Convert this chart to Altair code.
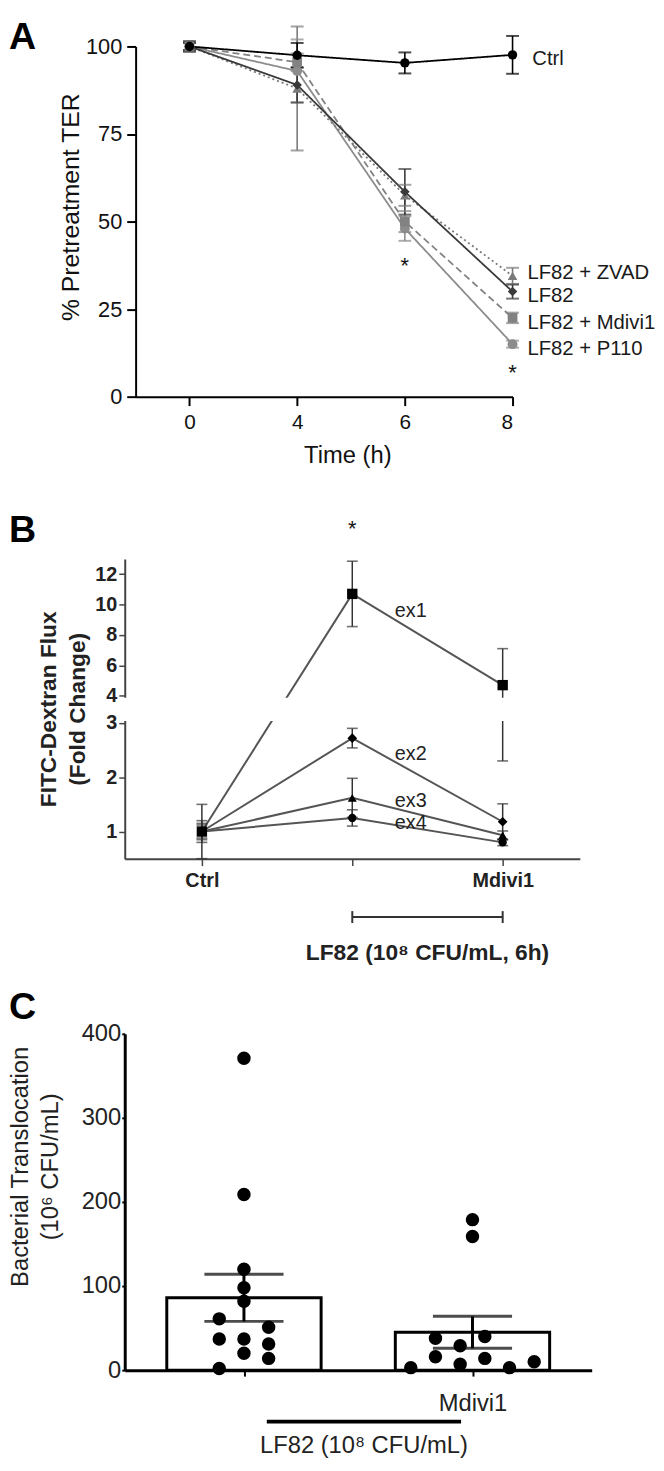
import altair as alt
import pandas as pd

FONT = "Liberation Sans"

# ---------------- Panel A data ----------------
a_times = [0, 4, 6, 8]
a_series = ["LF82 + P110", "LF82 + Mdivi1", "LF82 + ZVAD", "LF82", "Ctrl"]
ctrl_mean = [100, 97.5, 95.3, 97.6]
ctrl_sem = [1.5, 3.5, 3.0, 5.4]
lf82_mean = [100, 89, 58.5, 30]
lf82_sem = [1.0, 5.0, 6.5, 2.0]
zvad_mean = [100, 88, 57.5, 34.5]
zvad_sem = [1.0, 17.7, 3.0, 2.3]
mdivi_mean = [100, 95.5, 50, 22.5]
mdivi_sem = [1.0, 2.5, 3.0, 1.5]
p110_mean = [100, 93, 48, 15]
p110_sem = [1.0, 9.0, 3.5, 1.0]
a_sig_times = [6, 8]

# ---------------- Panel B data ----------------
b_conditions = ["Ctrl", "LF82", "LF82 + Mdivi1"]
b_tick_labels = ["Ctrl", "", "Mdivi1"]
b_experiments = ["ex1", "ex2", "ex3", "ex4"]
ex1_mean = [1.0, 10.7, 4.7]
ex1_sem = [0.5, 2.15, 2.4]
ex2_mean = [1.0, 2.72, 1.18]
ex2_sem = [0.2, 0.18, 0.33]
ex3_mean = [1.0, 1.62, 0.93]
ex3_sem = [0.15, 0.36, 0.08]
ex4_mean = [1.0, 1.25, 0.80]
ex4_sem = [0.12, 0.15, 0.06]
b_sig_conditions = ["LF82"]
b_lf82_label = "LF82 (10⁸ CFU/mL, 6h)"

# ---------------- Panel C data ----------------
c_groups = ["LF82", "LF82 + Mdivi1"]
c_tick_labels = ["", "Mdivi1"]
c_bar_mean = [86, 45]
c_bar_sem = [28, 19]
c_lf82_values = [371, 209, 120, 98, 82, 61, 51, 37, 37, 31, 20, 14, 2]
c_lf82_columns = [0, 0, 0, 0, 0, -1, 1, -1, 0, 1, 0, 1, -1]
c_mdivi_values = [179, 159, 3, 38, 16, 29, 7, 40, 14, 3, 10]
c_mdivi_columns = [0, 0, -2.5, -1.5, -1.5, -0.5, -0.5, 0.5, 0.5, 1.5, 2.5]
c_lf82_span = [0.1, 0.95]
c_lf82_label = "LF82 (10⁸ CFU/mL)"

# =====================================================================
# Panel A
# =====================================================================
A_W, A_H = 392, 354
A_SHIFT = 11
a_values = {
    "Ctrl": (ctrl_mean, ctrl_sem),
    "LF82": (lf82_mean, lf82_sem),
    "LF82 + ZVAD": (zvad_mean, zvad_sem),
    "LF82 + Mdivi1": (mdivi_mean, mdivi_sem),
    "LF82 + P110": (p110_mean, p110_sem),
}
rows = []
for name in a_series:
    m, s = a_values[name]
    for i, t in enumerate(a_times):
        rows.append({"series": name, "ti": i, "time": t, "mean": m[i],
                     "lo": m[i] - s[i], "hi": m[i] + s[i]})
df_a = pd.DataFrame(rows)

a_color = {"Ctrl": "#000000", "LF82": "#3a3a3a", "LF82 + ZVAD": "#7a7a7a",
           "LF82 + Mdivi1": "#828282", "LF82 + P110": "#8c8c8c"}
a_dash = {"Ctrl": [1, 0], "LF82": [1, 0], "LF82 + ZVAD": [2, 3],
          "LF82 + Mdivi1": [7, 4], "LF82 + P110": [1, 0]}
a_width = {"Ctrl": 2.2, "LF82": 1.8, "LF82 + ZVAD": 1.8, "LF82 + Mdivi1": 1.8, "LF82 + P110": 1.8}
a_shape = {"Ctrl": "circle", "LF82": "diamond", "LF82 + ZVAD": "triangle-up",
           "LF82 + Mdivi1": "square", "LF82 + P110": "circle"}
a_size = {"Ctrl": 200, "LF82": 110, "LF82 + ZVAD": 90, "LF82 + Mdivi1": 90, "LF82 + P110": 100}
a_label_nudge = {"Ctrl": (20, 4), "LF82 + ZVAD": (15, -3), "LF82": (15, 5),
                 "LF82 + Mdivi1": (15, 5), "LF82 + P110": (15, 5)}

color_a = alt.Color("series:N", scale=alt.Scale(domain=a_series, range=[a_color[s] for s in a_series]), legend=None)
x_labels_a = "[" + ",".join("'%s'" % t for t in a_times) + "][datum.value]"
axis_x_a = alt.Axis(values=list(range(len(a_times))), labelExpr=x_labels_a, title="Time (h)", grid=False,
                    domainColor="#000", domainWidth=2, tickColor="#000", tickWidth=2, tickSize=9,
                    labelFontSize=21, labelColor="#111", labelPadding=6, labelFont=FONT,
                    titleFontSize=24, titleFontWeight="normal", titleColor="#111", titlePadding=12,
                    titleX=225, titleFont=FONT)
axis_y_a = alt.Axis(values=[0, 25, 50, 75, 100], title="% Pretreatment TER", grid=False, offset=-A_SHIFT,
                    domainColor="#000", domainWidth=2, tickColor="#000", tickWidth=2, tickSize=9,
                    labelFontSize=22, labelColor="#111", labelPadding=5, labelFont=FONT,
                    titleFontSize=25, titleFontWeight="normal", titleColor="#111", titlePadding=2,
                    titleY=162, titleFont=FONT)
scale_x_a = alt.Scale(domain=[-0.5, len(a_times) - 1], range=[A_SHIFT, A_W], nice=False)
scale_y_a = alt.Scale(domain=[0, 100], nice=False)


def xa():
    return alt.X("ti:Q", scale=scale_x_a, axis=axis_x_a)


def ya(field):
    return alt.Y(field + ":Q", scale=scale_y_a, axis=axis_y_a)


base_a = alt.Chart(df_a)
lines_a = base_a.mark_line().encode(
    x=xa(), y=ya("mean"), color=color_a, detail="series:N",
    strokeDash=alt.StrokeDash("series:N", scale=alt.Scale(domain=a_series, range=[a_dash[s] for s in a_series]), legend=None),
    strokeWidth=alt.StrokeWidth("series:N", scale=alt.Scale(domain=a_series, range=[a_width[s] for s in a_series]), legend=None),
)
err_a = base_a.mark_rule(strokeWidth=1.6).encode(x=xa(), y=ya("lo"), y2="hi:Q", color=color_a)
caps_a = base_a.transform_fold(["lo", "hi"], as_=["end", "val"]).mark_tick(
    orient="horizontal", size=13, thickness=2).encode(x=xa(), y=ya("val"), color=color_a)
pts_a = base_a.mark_point(filled=True, opacity=1).encode(
    x=xa(), y=ya("mean"), color=color_a,
    shape=alt.Shape("series:N", scale=alt.Scale(domain=a_series, range=[a_shape[s] for s in a_series]), legend=None),
    size=alt.Size("series:N", scale=alt.Scale(domain=a_series, range=[a_size[s] for s in a_series]), legend=None),
)
label_layers_a = []
last = df_a[df_a["ti"] == len(a_times) - 1]
for name in a_series:
    dx, dy = a_label_nudge[name]
    label_layers_a.append(
        alt.Chart(last[last["series"] == name]).mark_text(
            align="left", baseline="middle", dx=dx, dy=dy, fontSize=20.5, color="#1a1a1a", font=FONT
        ).encode(x=xa(), y=ya("mean"), text="series:N")
    )
sig_a = df_a[(df_a["time"].isin(a_sig_times)) & (df_a["series"] != "Ctrl")].groupby("ti", as_index=False)["lo"].min()
sig_a["mark"] = "*"
stars_a = alt.Chart(sig_a).mark_text(baseline="middle", dy=26, fontSize=22, color="#111", font=FONT).encode(
    x=xa(), y=ya("lo"), text="mark:N")
letter_a = alt.Chart(pd.DataFrame({"t": ["A"]})).mark_text(
    align="left", baseline="top", fontSize=38, fontWeight="bold", color="#000", font=FONT
).encode(x=alt.value(-117), y=alt.value(-27), text="t:N")
anchor = alt.Chart(pd.DataFrame({"t": [0]})).mark_rule(strokeOpacity=0, strokeWidth=1).encode(
    x=alt.value(-117), x2=alt.value(-116), y=alt.value(-31), y2=alt.value(-30))

panel_a = alt.layer(lines_a, err_a, caps_a, pts_a, *label_layers_a, stars_a, letter_a, anchor).properties(
    width=A_W, height=A_H)

# =====================================================================
# Panel B (broken y axis)
# =====================================================================
B_W, B_H = 460, 303
B_BREAK_LOW, B_BREAK_HIGH = 3, 4
B_UP_START = 3.5
B_K = 0.28


def disp(v):
    return v if v <= B_BREAK_LOW else B_UP_START + (v - B_BREAK_HIGH) * B_K


def disp_expr(f):
    return "datum.%s <= %s ? datum.%s : %s + (datum.%s - %s) * %s" % (
        f, B_BREAK_LOW, f, B_UP_START, f, B_BREAK_HIGH, B_K)


b_values = {"ex1": (ex1_mean, ex1_sem), "ex2": (ex2_mean, ex2_sem),
            "ex3": (ex3_mean, ex3_sem), "ex4": (ex4_mean, ex4_sem)}
rows = []
for name in b_experiments:
    m, s = b_values[name]
    for i, c in enumerate(b_conditions):
        rows.append({"ex": name, "ci": i, "cond": c, "mean": m[i], "lo": m[i] - s[i], "hi": m[i] + s[i]})
df_b = pd.DataFrame(rows)

b_shape = {"ex1": "square", "ex2": "diamond", "ex3": "triangle-up", "ex4": "circle"}
b_size = {"ex1": 110, "ex2": 70, "ex3": 60, "ex4": 90}
b_label_dy = {"ex1": 17, "ex2": 16, "ex3": 3, "ex4": 5}

b_ticks = [1, 2, 3] + [round(disp(v), 4) for v in [4, 6, 8, 10, 12]]
b_label_expr = "datum.value <= %s ? format(datum.value, 'd') : format(%s + (datum.value - %s) / %s, '.0f')" % (
    B_BREAK_LOW + 0.01, B_BREAK_HIGH, B_UP_START, B_K)
axis_y_b = alt.Axis(values=b_ticks, labelExpr=b_label_expr, grid=False,
                    title=["FITC-Dextran Flux", "(Fold Change)"],
                    domainColor="#444", domainWidth=2, tickColor="#444", tickWidth=1.5, tickSize=6,
                    labelFontSize=20, labelFontWeight="bold", labelColor="#222", labelPadding=2, labelFont=FONT,
                    titleFontSize=23, titleFontWeight="bold", titleColor="#222", titlePadding=5,
                    titleLineHeight=30, titleFont=FONT)
x_labels_b = "[" + ",".join("'%s'" % t for t in b_tick_labels) + "][datum.value]"
axis_x_b = alt.Axis(values=list(range(len(b_conditions))), labelExpr=x_labels_b, title=None, grid=False,
                    domainColor="#444", domainWidth=2, tickColor="#444", tickWidth=1.5, tickSize=7,
                    labelFontSize=20, labelFontWeight="bold", labelColor="#222", labelPadding=5, labelFont=FONT)
scale_x_b = alt.Scale(domain=[-0.513, 2.513], nice=False)
scale_y_b = alt.Scale(domain=[0.5, disp(13)], nice=False, zero=False)


def xb():
    return alt.X("ci:Q", scale=scale_x_b, axis=axis_x_b)


def yb(field):
    return alt.Y(field + ":Q", scale=scale_y_b, axis=axis_y_b)


base_b = alt.Chart(df_b).transform_calculate(
    d_mean=disp_expr("mean"), d_lo=disp_expr("lo"), d_hi=disp_expr("hi"))
lines_b = base_b.mark_line(color="#555", strokeWidth=2).encode(x=xb(), y=yb("d_mean"), detail="ex:N")
err_b = base_b.mark_rule(color="#333", strokeWidth=1.5).encode(x=xb(), y=yb("d_lo"), y2="d_hi:Q")
caps_b = base_b.transform_fold(["d_lo", "d_hi"], as_=["end", "val"]).mark_tick(
    orient="horizontal", size=11, thickness=1.6, color="#333").encode(x=xb(), y=yb("val"))
pts_b = base_b.mark_point(filled=True, opacity=1, color="#000").encode(
    x=xb(), y=yb("d_mean"),
    shape=alt.Shape("ex:N", scale=alt.Scale(domain=b_experiments, range=[b_shape[e] for e in b_experiments]), legend=None),
    size=alt.Size("ex:N", scale=alt.Scale(domain=b_experiments, range=[b_size[e] for e in b_experiments]), legend=None),
)
band_b = alt.Chart(pd.DataFrame({"t": [0]})).mark_rect(color="white").encode(
    y=alt.datum(B_BREAK_LOW + 0.035), y2=alt.datum(B_UP_START - 0.035),
    x=alt.value(-6), x2=alt.value(B_W + 10))
label_layers_b = []
mid_idx = b_conditions.index("LF82")
for name in b_experiments:
    label_layers_b.append(
        base_b.transform_filter("datum.ex == '%s' && datum.ci == %d" % (name, mid_idx)).mark_text(
            align="left", baseline="middle", dx=43, dy=b_label_dy[name], fontSize=20, color="#222", font=FONT
        ).encode(x=xb(), y=yb("d_mean"), text="ex:N")
    )
stars_b = base_b.transform_filter(
    alt.FieldOneOfPredicate(field="cond", oneOf=b_sig_conditions)).transform_aggregate(
    top="max(d_hi)", groupby=["ci"]).transform_calculate(mark="'*'").mark_text(
    baseline="middle", dy=-32, fontSize=22, color="#111", font=FONT).encode(x=xb(), y=yb("top"), text="mark:N")

bracket_idx = [i for i, c in enumerate(b_conditions) if c.startswith("LF82")]
df_br = pd.DataFrame({"x1": [min(bracket_idx)], "x2": [max(bracket_idx)],
                      "xm": [(min(bracket_idx) + max(bracket_idx)) / 2], "label": [b_lf82_label]})
df_br_ends = pd.DataFrame({"ci": bracket_idx})
bracket_b = alt.Chart(df_br).mark_rule(color="#333", strokeWidth=2).encode(
    x=alt.X("x1:Q", scale=scale_x_b, axis=axis_x_b), x2="x2:Q", y=alt.value(362))
bracket_ends_b = alt.Chart(df_br_ends).mark_rule(color="#333", strokeWidth=2).encode(
    x=xb(), y=alt.value(356), y2=alt.value(368))
bracket_text_b = alt.Chart(df_br).mark_text(
    baseline="middle", fontSize=23, fontWeight="bold", color="#222", font=FONT).encode(
    x=alt.X("xm:Q", scale=scale_x_b, axis=axis_x_b), y=alt.value(398), text="label:N")
letter_b = alt.Chart(pd.DataFrame({"t": ["B"]})).mark_text(
    align="left", baseline="top", fontSize=38, fontWeight="bold", color="#000", font=FONT
).encode(x=alt.value(-117), y=alt.value(-47), text="t:N")

panel_b = alt.layer(lines_b, err_b, caps_b, pts_b, band_b, *label_layers_b, stars_b,
                    bracket_b, bracket_ends_b, bracket_text_b, letter_b).properties(width=B_W, height=B_H)

# =====================================================================
# Panel C
# =====================================================================
C_W, C_H, C_TOP = 472, 353, 13
C_STEP = 0.108
df_c_bar = pd.DataFrame({"g": list(range(len(c_groups))), "group": c_groups,
                         "mean": c_bar_mean, "sem": c_bar_sem})
df_c_bar["lo"] = df_c_bar["mean"] - df_c_bar["sem"]
df_c_bar["hi"] = df_c_bar["mean"] + df_c_bar["sem"]
df_c_pts = pd.DataFrame({
    "g": [0] * len(c_lf82_values) + [1] * len(c_mdivi_values),
    "col": c_lf82_columns + c_mdivi_columns,
    "value": c_lf82_values + c_mdivi_values,
})

x_labels_c = "[" + ",".join("'%s'" % t for t in c_tick_labels) + "][datum.value]"
axis_x_c = alt.Axis(values=list(range(len(c_groups))), labelExpr=x_labels_c, title=None, grid=False,
                    domainColor="#000", domainWidth=3, tickColor="#000", tickWidth=2, tickSize=6,
                    labelFontSize=24, labelColor="#222", labelPadding=16, labelFont=FONT)
axis_y_c = alt.Axis(values=[0, 100, 200, 300, 400], grid=False,
                    title=["Bacterial Translocation", "(10⁶ CFU/mL)"],
                    domainColor="#000", domainWidth=3, tickColor="#000", tickWidth=2, tickSize=3,
                    labelFontSize=24, labelColor="#222", labelPadding=1, labelFont=FONT,
                    titleFontSize=24, titleFontWeight="normal", titleColor="#222", titlePadding=19,
                    titleLineHeight=30, titleY=147, titleFont=FONT)
scale_x_c = alt.Scale(domain=[-0.5, len(c_groups) - 0.5], nice=False)
scale_y_c = alt.Scale(domain=[0, 400], range=[C_H, C_TOP], nice=False)


def xc(field="g"):
    return alt.X(field + ":Q", scale=scale_x_c, axis=axis_x_c)


def yc(field):
    return alt.Y(field + ":Q", scale=scale_y_c, axis=axis_y_c)


bars_c = alt.Chart(df_c_bar).mark_bar(size=156, fill="white", stroke="#000", strokeWidth=3, orient="vertical").encode(
    x=xc(), y=yc("mean"), y2=alt.datum(0))
err_c = alt.Chart(df_c_bar).mark_rule(color="#000", strokeWidth=3).encode(x=xc(), y=yc("lo"), y2="hi:Q")
caps_c = alt.Chart(df_c_bar).transform_fold(["lo", "hi"], as_=["end", "val"]).mark_tick(
    orient="horizontal", size=80, thickness=3, color="#000").encode(x=xc(), y=yc("val"))
pts_c = alt.Chart(df_c_pts).transform_calculate(gx="datum.g + datum.col * %s" % C_STEP).mark_circle(
    size=185, color="#000", opacity=1).encode(x=xc("gx"), y=yc("value"))
df_span = pd.DataFrame({"x1": [c_lf82_span[0]], "x2": [c_lf82_span[1]],
                        "xm": [(c_lf82_span[0] + c_lf82_span[1]) / 2], "label": [c_lf82_label]})
span_c = alt.Chart(df_span).mark_rule(color="#000", strokeWidth=4).encode(
    x=xc("x1"), x2="x2:Q", y=alt.value(C_H + 52))
span_text_c = alt.Chart(df_span).mark_text(baseline="middle", fontSize=24, color="#222", font=FONT).encode(
    x=xc("xm"), y=alt.value(C_H + 77), text="label:N")
letter_c = alt.Chart(pd.DataFrame({"t": ["C"]})).mark_text(
    align="left", baseline="top", fontSize=38, fontWeight="bold", color="#000", font=FONT
).encode(x=alt.value(-117), y=alt.value(C_TOP - 45), text="t:N")

panel_c = alt.layer(bars_c, err_c, caps_c, pts_c, span_c, span_text_c, letter_c).properties(width=C_W, height=C_H)

chart = alt.vconcat(panel_a, panel_b, panel_c, spacing=164, bounds="flush", padding=0).resolve_scale(
    color="independent", shape="independent", size="independent", strokeDash="independent",
    strokeWidth="independent").configure(font=FONT).configure_view(stroke=None)

chart.save("out.html", embed_options={"renderer": "svg", "actions": False})
